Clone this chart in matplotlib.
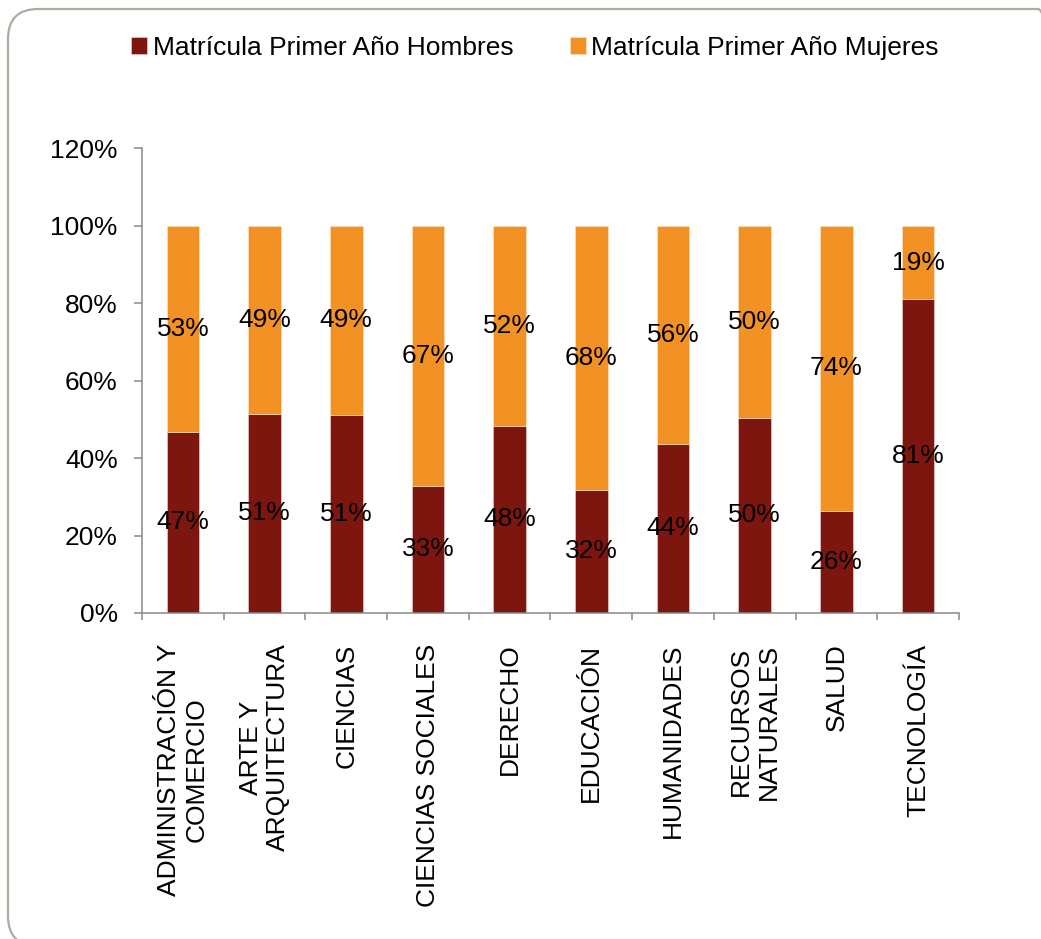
import numpy as np
import matplotlib
matplotlib.use("Agg")
import matplotlib.pyplot as plt
from matplotlib.patches import FancyBboxPatch
from matplotlib.transforms import IdentityTransform

plt.rcParams['font.family'] = ['Liberation Sans', 'DejaVu Sans']

# Datos
areas = ['ADMINISTRACIÓN Y\nCOMERCIO', 'ARTE Y\nARQUITECTURA', 'CIENCIAS',
         'CIENCIAS SOCIALES', 'DERECHO', 'EDUCACIÓN', 'HUMANIDADES',
         'RECURSOS\nNATURALES', 'SALUD', 'TECNOLOGÍA']
hombres = [46.8, 51.4, 51.2, 32.8, 48.3, 31.8, 43.7, 50.4, 26.4, 81.0]
mujeres = [53.2, 48.6, 48.8, 67.2, 51.7, 68.2, 56.3, 49.6, 73.6, 19.0]
serie_h = 'Matrícula Primer Año Hombres'
serie_m = 'Matrícula Primer Año Mujeres'
yticks = [0, 20, 40, 60, 80, 100, 120]

col_h = '#7E1610'
col_m = '#F39224'
gris = '#898989'
fs = 19

fig = plt.figure(figsize=(10.41, 9.39), dpi=100)
ax = fig.add_axes([0.1364, 0.3472, 0.9212 - 0.1364, 0.8419 - 0.3472])

x = np.arange(len(areas))
b1 = ax.bar(x, hombres, width=0.4, color=col_h, edgecolor='#F2D9D0', linewidth=0.4,
            label=serie_h)
b2 = ax.bar(x, mujeres, width=0.4, bottom=hombres, color=col_m, edgecolor='#FBE3C8',
            linewidth=0.4, label=serie_m)

# etiquetas de porcentaje
for i in range(len(areas)):
    ax.text(x[i], hombres[i] / 2, f"{hombres[i]:.0f}%", ha='center', va='center',
            fontsize=fs, color='black')
    ax.text(x[i], hombres[i] + mujeres[i] / 2, f"{mujeres[i]:.0f}%", ha='center',
            va='center', fontsize=fs, color='black')

ax.set_xlim(-0.5, len(areas) - 0.5)
ax.set_ylim(0, 120)
ax.set_yticks(yticks)
ax.set_yticklabels([f"{v}%" for v in yticks], fontsize=fs)
ax.set_xticks(x)
ax.set_xticklabels(areas, rotation=90, fontsize=fs, va='top', ha='center',
                   multialignment='center')
ax.set_xticks(np.arange(len(areas) + 1) - 0.5, minor=True)
ax.tick_params(axis='x', which='major', length=0, pad=22)
ax.tick_params(axis='x', which='minor', length=5, width=1.1, color=gris, direction='out')
ax.tick_params(axis='y', length=5.5, width=1.1, color=gris, pad=12)

for s in ['top', 'right']:
    ax.spines[s].set_visible(False)
for s in ['left', 'bottom']:
    ax.spines[s].set_color(gris)
    ax.spines[s].set_linewidth(1.1)

fig.legend(handles=[b1, b2], labels=[serie_h, serie_m], loc='center',
           bbox_to_anchor=(535 / 1041, 1 - 48 / 939), ncol=2, frameon=False,
           fontsize=fs, handlelength=0.6, handleheight=0.6, handletextpad=0.2,
           columnspacing=2.15)

# marco redondeado
marco = FancyBboxPatch((8, -7), 1060, 937, boxstyle='round,pad=0,rounding_size=30',
                       transform=IdentityTransform(), facecolor='none',
                       edgecolor='#B3A99F', linewidth=1.6)
fig.patches.append(marco)

fig.savefig('out.png', dpi=100)
